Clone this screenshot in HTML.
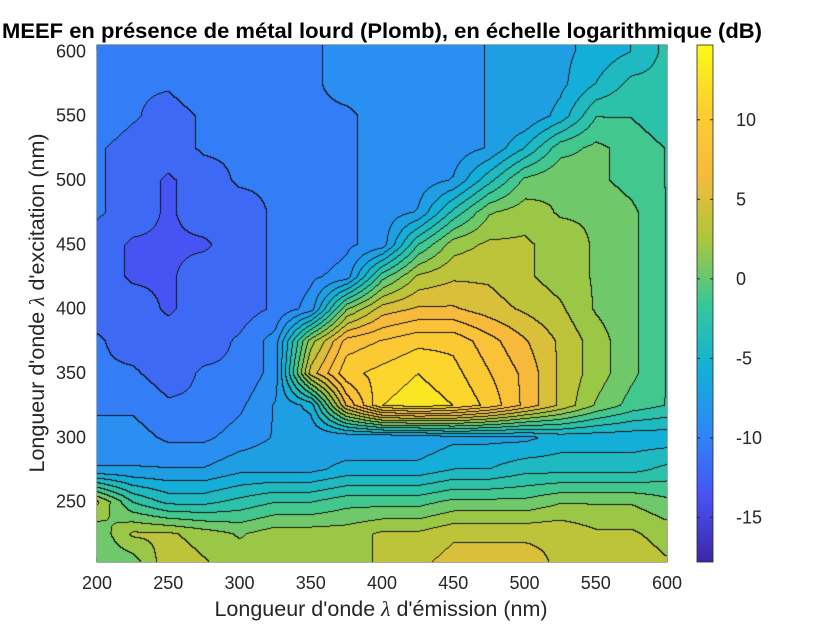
<!DOCTYPE html>
<html><head><meta charset="utf-8">
<style>
html,body{margin:0;padding:0;background:#fff;}
#wrap{position:relative;width:840px;height:630px;font-family:"Liberation Sans",Arial,sans-serif;}
svg text{font-family:"Liberation Sans",Arial,sans-serif;}
canvas{position:absolute;left:97px;top:45px;}
</style></head>
<body>
<div id="wrap">
<svg width="840" height="630" style="position:absolute;left:0;top:0">
<defs>
<linearGradient id="parula" x1="0" y1="1" x2="0" y2="0">
<stop offset="0" stop-color="rgb(62,38,168)"/>
<stop offset="0.125" stop-color="rgb(72,82,244)"/>
<stop offset="0.25" stop-color="rgb(46,135,247)"/>
<stop offset="0.375" stop-color="rgb(18,177,214)"/>
<stop offset="0.5" stop-color="rgb(55,200,151)"/>
<stop offset="0.625" stop-color="rgb(171,199,57)"/>
<stop offset="0.75" stop-color="rgb(247,186,61)"/>
<stop offset="0.875" stop-color="rgb(252,207,48)"/>
<stop offset="1" stop-color="rgb(249,251,21)"/>
</linearGradient>
</defs>
<text x="382" y="38" text-anchor="middle" font-size="21.5" font-weight="bold" textLength="760" lengthAdjust="spacingAndGlyphs">MEEF en présence de métal lourd (Plomb), en échelle logarithmique (dB)</text>
<g id="axes"></g>
<text x="381" y="616" text-anchor="middle" font-size="21.5" fill="#262626">Longueur d'onde <tspan font-family="Liberation Serif" font-style="italic">λ</tspan> d'émission (nm)</text>
<text transform="translate(44,303) rotate(-90)" text-anchor="middle" font-size="21.5" fill="#262626">Longueur d'onde <tspan font-family="Liberation Serif" font-style="italic">λ</tspan> d'excitation (nm)</text>
<rect x="697" y="45" width="16" height="517" fill="url(#parula)" stroke="#262626" stroke-width="0.8"/>
<g id="cbticks"></g>
</svg>
</div>
<script>
const emission=[200,225,250,275,300,325,350,375,400,425,450,475,500,525,550,575,600];
const excitation=[600,575,550,525,500,475,450,425,400,375,350,325,300,275,250,225,200];
const values=[
[-10,-10,-11,-10,-10,-10,-10,-9,-9,-9,-9,-8,-8,-7,-6,-5,-3],
[-10,-11,-11,-10,-10,-10,-10,-9,-9,-9,-9,-8,-8,-7,-5,-3,-3],
[-10,-11,-12,-11,-10,-10,-10,-10,-9,-9,-9,-8,-8,-6,-2,-2,-3],
[-11,-12,-12,-11,-11,-10,-10,-10,-9,-9,-9,-8,-5,-1,0,-1,-2],
[-11,-12,-13,-12,-11,-11,-10,-10,-9,-9,-8,-4,0,1,0,-1,-2],
[-11,-12,-13,-12,-12,-11,-10,-10,-9,-8,-3,1,2,1,1,0,-2],
[-12,-13,-13,-13,-12,-11,-11,-10,-9,-2,2,3,3,2,1,0,-2],
[-12,-13,-13,-12,-12,-11,-10,-9,-1,3,4,4,3,2,1,0,-2],
[-12,-12,-13,-12,-12,-11,-9,1,5,6,6,5,4,3,1,0,-2],
[-11,-12,-12,-12,-11,-9,2,8,9,10,10,8,6,4,2,0,-2],
[-11,-11,-12,-11,-11,-9,5,10,11,12,11,9,7,4,2,0,-2],
[-10,-10,-11,-11,-10,-8,-6,6,12,13,12,10,7,4,1,-1,-2],
[-9,-9,-10,-10,-9,-8,-8,-8,-8,-8,-7,-7,-7,-6,-6,-6,-6],
[-8,-8,-8,-8,-7,-7,-7,-6,-6,-6,-5,-5,-4,-4,-4,-4,-3],
[3,-2,-4,-4,-3,-2,-2,-1,-1,-1,0,0,0,1,1,1,0],
[0,3,3,2,1,2,2,2,3,3,4,4,4,4,3,3,2],
[0,0,4,3,2,2,2,2,3,4,5,5,5,4,4,4,3]
];
const xTicks=[200,250,300,350,400,450,500,550,600];
const yTicks=[250,300,350,400,450,500,550,600];
const cTicks=[10,5,0,-5,-10,-15];
const cMin=-17.8, cMax=14.7;

const PX=97,PY=45,PW=570,PH=517;
const xMin=200,xMax=600,yMin=203,yMax=605;
function xs(v){return PX+(v-xMin)/(xMax-xMin)*PW;}
function ys(v){return PY+(yMax-v)/(yMax-yMin)*PH;}
function cs(v){return 45+(cMax-v)/(cMax-cMin)*517;}
const par=[[62,38,168],[72,82,244],[46,135,247],[18,177,214],[55,200,151],[171,199,57],[247,186,61],[252,207,48],[249,251,21]];
function cmap(t){t=Math.max(0,Math.min(1,t));const f=t*8,i=Math.min(7,Math.floor(f)),r=f-i;
return par[i].map((c,k)=>c+(par[i+1][k]-c)*r);}
function sample(em,ex){
 let fx=(em-emission[0])/(emission[1]-emission[0]);
 let fy=(excitation[0]-ex)/(excitation[0]-excitation[1]);
 fx=Math.max(0,Math.min(emission.length-1.0001,fx));fy=Math.max(0,Math.min(excitation.length-1.0001,fy));
 const i=Math.floor(fx),j=Math.floor(fy),a=fx-i,b=fy-j;
 return values[j][i]*(1-a)*(1-b)+values[j][i+1]*a*(1-b)+values[j+1][i]*(1-a)*b+values[j+1][i+1]*a*b;
}
const cv=document.createElement('canvas');


cv.width=PW;cv.height=PH;
document.getElementById('wrap').appendChild(cv);
const ctx=cv.getContext('2d');const img=ctx.createImageData(PW,PH);
const step=1.55;const base=cMin+0.37;const lev=new Int16Array(PW*PH);
for(let y=0;y<PH;y++)for(let x=0;x<PW;x++){
 const em=xMin+x/PW*(xMax-xMin),ex=yMax-y/PH*(yMax-yMin);
 lev[y*PW+x]=Math.floor((sample(em,ex)-base)/step);
}
for(let y=0;y<PH;y++)for(let x=0;x<PW;x++){
 const L=lev[y*PW+x];const v=base+(L+0.5)*step;
 let c=cmap((v-cMin)/(cMax-cMin));
 const edge=(x+1<PW&&lev[y*PW+x+1]!==L)||(y+1<PH&&lev[(y+1)*PW+x]!==L);
 if(edge)c=[20,20,20];
 const o=(y*PW+x)*4;img.data[o]=c[0];img.data[o+1]=c[1];img.data[o+2]=c[2];img.data[o+3]=255;
}
ctx.putImageData(img,0,0);

const NS='http://www.w3.org/2000/svg';
const axes=document.getElementById('axes');
function mk(tag,attrs,parent){const e=document.createElementNS(NS,tag);for(const k in attrs)e.setAttribute(k,attrs[k]);parent.appendChild(e);return e;}
const frame=mk('rect',{x:PX,y:PY,width:PW,height:PH,fill:'none',stroke:'#262626','stroke-width':0.8},axes);


xTicks.forEach(v=>{
 const x=xs(v);
 mk('line',{x1:x,x2:x,y1:PY+PH,y2:PY+PH-5,stroke:'#262626'},axes);
 mk('line',{x1:x,x2:x,y1:PY,y2:PY+5,stroke:'#262626'},axes);
 const t=mk('text',{x:x,y:589,'text-anchor':'middle','font-size':18,fill:'#262626'},axes);t.textContent=v;
 
 
});
yTicks.forEach(v=>{
 const y=ys(v);
 mk('line',{x1:PX,x2:PX+5,y1:y,y2:y,stroke:'#262626'},axes);
 mk('line',{x1:PX+PW,x2:PX+PW-5,y1:y,y2:y,stroke:'#262626'},axes);
 const t=mk('text',{x:86,y:y+6,'text-anchor':'end','font-size':18,fill:'#262626'},axes);t.textContent=v;
 
 
});
const cb=document.getElementById('cbticks');
cTicks.forEach(v=>{
 const y=cs(v);
 mk('line',{x1:697,x2:700,y1:y,y2:y,stroke:'#262626'},cb);
 mk('line',{x1:713,x2:710,y1:y,y2:y,stroke:'#262626'},cb);
 const t=mk('text',{x:736,y:y+6,'font-size':18,fill:'#262626'},cb);t.textContent=v;
 
 
});
</script>
</body></html>
